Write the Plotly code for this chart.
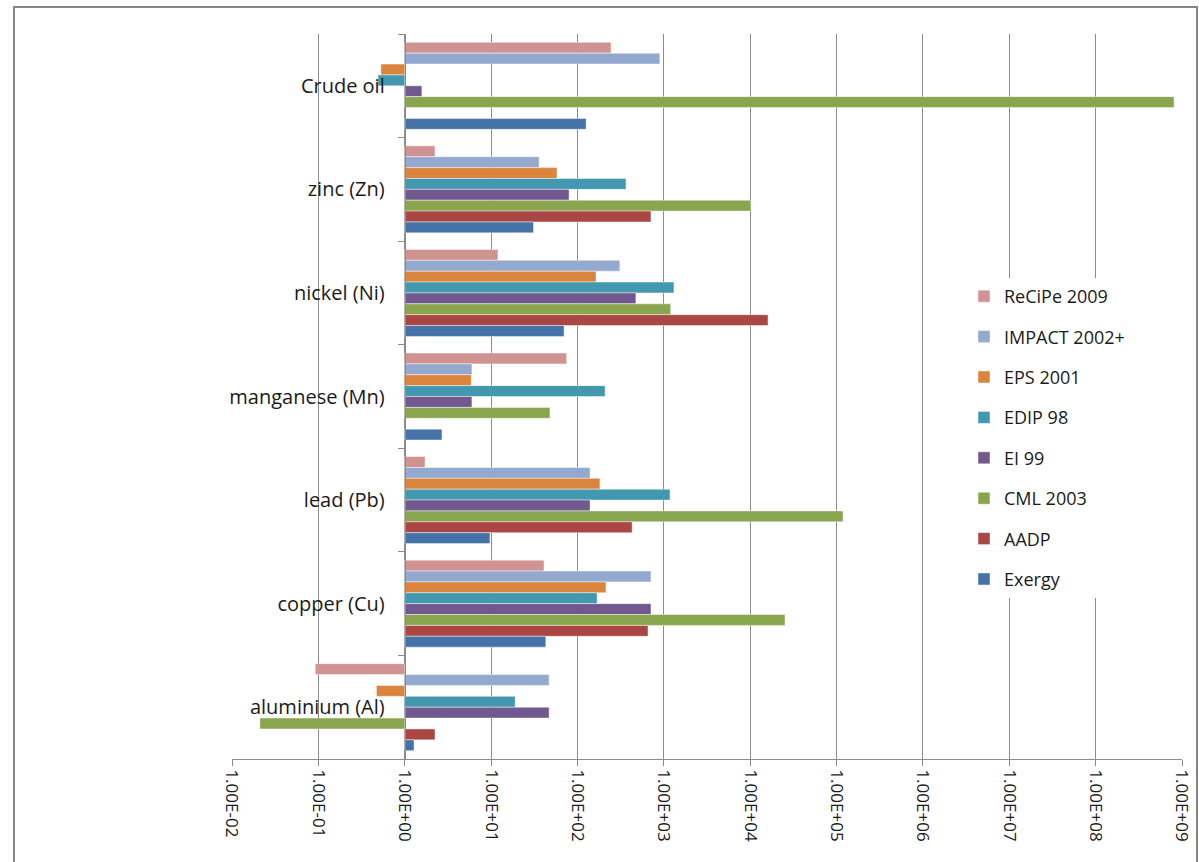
import plotly.graph_objects as go

# Categories, listed top to bottom as they appear on the axis
categories = ["Crude oil", "zinc (Zn)", "nickel (Ni)", "manganese (Mn)",
              "lead (Pb)", "copper (Cu)", "aluminium (Al)"]

# Characterisation factors per method (same order as categories); None = no value
recipe_2009 = [245, 2.24, 12, 75, 1.72, 41, 0.092]
impact_2002 = [900, 36, 310, 6.0, 140, 710, 47]
eps_2001 = [0.53, 58, 164, 5.9, 182, 214, 0.47]
edip_98 = [0.49, 365, 1310, 209, 1180, 169, 19]
ei_99 = [1.58, 80, 475, 6.0, 140, 710, 47]
cml_2003 = [8.1e8, 10200, 1200, 48, 119000, 25300, 0.021]
aadp = [None, 710, 16100, None, 430, 656, 2.24]
exergy = [126, 31, 70, 2.7, 9.7, 43, 1.28]

series = [
    ("ReCiPe 2009", recipe_2009, "#D19392"),
    ("IMPACT 2002+", impact_2002, "#93A9CF"),
    ("EPS 2001", eps_2001, "#DB843D"),
    ("EDIP 98", edip_98, "#4198AF"),
    ("EI 99", ei_99, "#71588F"),
    ("CML 2003", cml_2003, "#89A54E"),
    ("AADP", aadp, "#AA4643"),
    ("Exergy", exergy, "#4572A7"),
]

tick_exponents = list(range(-2, 10))
tick_values = [10.0 ** e for e in tick_exponents]
tick_labels = ["1.00E%+03d" % e for e in tick_exponents]

FONT = "Open Sans"
GRID = "#8C8C8C"

fig = go.Figure()
for name, values, color in series:
    # bars grow from 1 (the crossing point of the axes) towards each value
    sizes = [None if v is None else v - 1.0 for v in values]
    fig.add_trace(go.Bar(
        y=categories, x=sizes, base=1.0, orientation="h", name=name,
        legendgroup=name,
        marker=dict(color=color, line=dict(color="rgba(255,255,255,0.45)", width=1)),
        customdata=values,
        hovertemplate="%{y}<br>" + name + ": %{customdata:.3g}<extra></extra>",
    ))

# plot area pixel frame, used to place the border and legend
L, R, T, B = 232, 1182, 34, 759
W, H = R - L, B - T

def px(xp):
    return (xp - L) / W

def py(yp):
    return (B - yp) / H

fig.add_shape(type="rect", xref="paper", yref="paper",
              x0=px(14), x1=px(1197), y0=py(900), y1=py(7),
              line=dict(color="#868686", width=2), layer="below")

fig.update_layout(
    width=1199, height=862,
    margin=dict(l=L, r=1199 - R, t=T, b=862 - B, autoexpand=False),
    paper_bgcolor="white", plot_bgcolor="white",
    barmode="group", bargap=0.16, bargroupgap=0.0,
    font=dict(family=FONT, color="#000000"),
    xaxis=dict(
        type="log", range=[-2, 9], automargin=False,
        tickmode="array", tickvals=tick_values, ticktext=tick_labels,
        tickangle=90, tickfont=dict(size=17, family=FONT, color="#1a1a1a"),
        ticks="outside", ticklen=6, tickcolor=GRID,
        showgrid=True, gridcolor=GRID, gridwidth=1,
        showline=True, linecolor=GRID, linewidth=1,
        zeroline=False,
    ),
    yaxis=dict(
        type="category", categoryorder="array", categoryarray=categories,
        autorange="reversed", automargin=False,
        anchor="free", position=2 / 11,
        ticks="outside", ticklen=7, tickcolor=GRID, tickson="boundaries",
        ticklabelstandoff=16,
        showline=True, linecolor=GRID, linewidth=1,
        showgrid=False, tickfont=dict(size=20, family=FONT, color="#1a1a1a"),
    ),
    legend=dict(
        x=px(964), y=py(278), xanchor="left", yanchor="top",
        traceorder="grouped", tracegroupgap=14,
        bgcolor="white", borderwidth=0,
        font=dict(size=18, family=FONT, color="#1a1a1a"),
    ),
    showlegend=True,
)

fig.write_html("out.html")
